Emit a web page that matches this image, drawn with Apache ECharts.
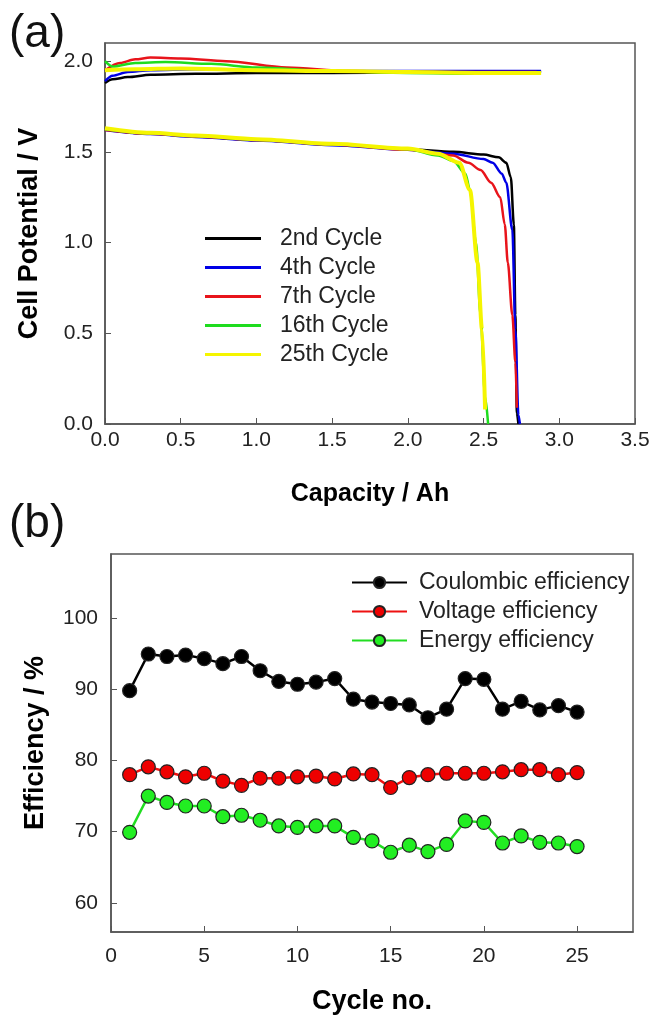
<!DOCTYPE html>
<html>
<head>
<meta charset="utf-8">
<script src="https://cdn.jsdelivr.net/npm/echarts@6/dist/echarts.min.js"></script>
<style>
  html, body { margin: 0; padding: 0; background: #fff; }
  #chart { width: 651px; height: 1015px; }
</style>
</head>
<body>
<div id="chart"></div>
<script>
// (a) charge / discharge curves, [capacity Ah, potential V]
const charge2 = [[0, 1.88], [0.05, 1.9], [0.15, 1.912], [0.3, 1.925], [0.6, 1.93], [1.0, 1.935], [1.5, 1.935], [2.0, 1.936], [2.5, 1.94], [2.88, 1.94]]
const charge4 = [[0, 1.89], [0.05, 1.92], [0.15, 1.94], [0.3, 1.95], [0.6, 1.955], [1.0, 1.95], [1.5, 1.946], [2.0, 1.945], [2.5, 1.945], [2.88, 1.945]]
const charge7 = [[0, 1.95], [0.1, 1.99], [0.2, 2.01], [0.3, 2.02], [0.5, 2.015], [0.8, 2.0], [1.2, 1.965], [1.6, 1.945], [2.0, 1.94], [2.5, 1.94], [2.85, 1.94]]
const charge16 = [[0, 2.0], [0.05, 1.97], [0.2, 1.99], [0.4, 1.995], [0.7, 1.985], [1.0, 1.965], [1.5, 1.945], [2.0, 1.935], [2.5, 1.93], [2.87, 1.93]]
const charge25 = [[0, 1.95], [0.2, 1.955], [0.5, 1.96], [1.0, 1.95], [1.5, 1.945], [2.0, 1.94], [2.5, 1.935], [2.88, 1.935]]

const discharge2 = [[0, 1.625], [0.3, 1.6], [0.6, 1.585], [1.0, 1.565], [1.5, 1.54], [2.0, 1.515], [2.3, 1.5], [2.5, 1.485], [2.6, 1.47], [2.65, 1.44], [2.68, 1.36], [2.7, 1.1], [2.71, 0.6], [2.72, 0.06], [2.73, 0]]
const discharge4 = [[0, 1.62], [0.3, 1.598], [0.6, 1.582], [1.0, 1.562], [1.5, 1.537], [2.0, 1.512], [2.3, 1.49], [2.5, 1.46], [2.56, 1.44], [2.62, 1.38], [2.65, 1.33], [2.69, 1.07], [2.71, 0.52], [2.73, 0.05], [2.74, 0]]
const discharge7 = [[0, 1.62], [0.3, 1.6], [0.6, 1.585], [1.0, 1.565], [1.5, 1.54], [2.0, 1.512], [2.3, 1.48], [2.4, 1.44], [2.48, 1.4], [2.55, 1.33], [2.61, 1.25], [2.64, 1.1], [2.66, 0.89], [2.69, 0.6], [2.71, 0.34], [2.72, 0.09]]
const discharge16 = [[0, 1.625], [0.3, 1.602], [0.6, 1.587], [1.0, 1.567], [1.5, 1.542], [2.0, 1.515], [2.2, 1.48], [2.3, 1.45], [2.38, 1.38], [2.41, 1.29], [2.45, 1.0], [2.48, 0.6], [2.51, 0.15], [2.53, 0]]
const discharge25 = [[0, 1.63], [0.3, 1.605], [0.6, 1.59], [1.0, 1.57], [1.5, 1.545], [2.0, 1.518], [2.2, 1.49], [2.34, 1.44], [2.41, 1.29], [2.46, 0.89], [2.49, 0.52], [2.51, 0.08]]

const cycleNames = ['2nd Cycle', '4th Cycle', '7th Cycle', '16th Cycle', '25th Cycle']
const cycleColors = ['#000000', '#0000e6', '#e8141b', '#1edc1e', '#f5f500']

// (b) efficiencies per cycle
const cycles = [1, 2, 3, 4, 5, 6, 7, 8, 9, 10, 11, 12, 13, 14, 15, 16, 17, 18, 19, 20, 21, 22, 23, 24, 25]
const coulombic = [89.8, 94.95, 94.6, 94.8, 94.3, 93.6, 94.6, 92.6, 91.1, 90.7, 91.0, 91.5, 88.6, 88.2, 88.0, 87.8, 86.0, 87.2, 91.5, 91.4, 87.2, 88.3, 87.1, 87.7, 86.8]
const voltage = [78.0, 79.1, 78.4, 77.7, 78.2, 77.1, 76.5, 77.5, 77.5, 77.7, 77.8, 77.4, 78.1, 78.0, 76.2, 77.6, 78.0, 78.2, 78.2, 78.2, 78.4, 78.7, 78.7, 78.0, 78.3]
const energy = [69.9, 75.0, 74.1, 73.6, 73.6, 72.1, 72.3, 71.6, 70.8, 70.6, 70.8, 70.8, 69.2, 68.7, 67.1, 68.1, 67.2, 68.2, 71.5, 71.3, 68.4, 69.4, 68.5, 68.4, 67.9]

const capTicks = [0, 0.5, 1.0, 1.5, 2.0, 2.5, 3.0, 3.5]
const potTicks = [0, 0.5, 1.0, 1.5, 2.0]
const cycleTicks = [0, 5, 10, 15, 20, 25]
const effTicks = [60, 70, 80, 90, 100]

const chart = echarts.init(document.getElementById('chart'))

const font = 'Liberation Sans, Arial, sans-serif'
const axisColor = '#555'
const labelStyle = { color: '#222', fontSize: 21, fontFamily: font }
const nameStyle = { color: '#000', fontSize: 27, fontWeight: 'bold', fontFamily: font }

const chargeSets = [charge2, charge4, charge7, charge16, charge25]
const dischargeSets = [discharge2, discharge4, discharge7, discharge16, discharge25]

let series = []
cycleNames.forEach((name, i) => {
  let width = i === 4 ? 4 : 2.5
  ;[chargeSets[i], dischargeSets[i]].forEach(d => {
    series.push({
      name: name,
      type: 'line',
      xAxisIndex: 0,
      yAxisIndex: 0,
      data: d,
      smooth: 0.3,
      smoothMonotone: 'x',
      showSymbol: false,
      symbol: 'none',
      lineStyle: { color: cycleColors[i], width: width },
      itemStyle: { color: cycleColors[i] },
      animation: false
    })
  })
})

const effSeries = [
  { name: 'Coulombic efficiency', data: coulombic, fill: '#000000', line: '#000000' },
  { name: 'Voltage efficiency', data: voltage, fill: '#ee0000', line: '#ee1111' },
  { name: 'Energy efficiency', data: energy, fill: '#22ee22', line: '#22dd22' }
]
effSeries.forEach(s => {
  series.push({
    name: s.name,
    type: 'line',
    xAxisIndex: 1,
    yAxisIndex: 1,
    data: cycles.map((c, k) => [c, s.data[k]]),
    symbol: 'circle',
    symbolSize: 14,
    lineStyle: { color: s.line, width: 2.5 },
    itemStyle: { color: s.fill, borderColor: '#222', borderWidth: 1.2 },
    animation: false
  })
})

const option = {
  backgroundColor: '#fff',
  graphic: [
    { type: 'text', left: 9, top: 11, style: { text: '(a)', fontSize: 46, fontFamily: font, fill: '#111' } },
    { type: 'text', left: 9, top: 501, style: { text: '(b)', fontSize: 46, fontFamily: font, fill: '#111' } }
  ],
  legend: [
    {
      data: cycleNames,
      orient: 'vertical',
      left: 200,
      top: 222,
      itemWidth: 56,
      itemHeight: 3,
      itemGap: 6,
      icon: 'rect',
      textStyle: { color: '#222', fontSize: 23, fontFamily: font, padding: [0, 0, 0, 14] }
    },
    {
      data: effSeries.map(s => s.name),
      orient: 'vertical',
      left: 346,
      top: 566,
      itemWidth: 55,
      itemHeight: 14,
      itemGap: 6,
      textStyle: { color: '#222', fontSize: 23, fontFamily: font, padding: [0, 0, 0, 7] }
    }
  ],
  grid: [
    { left: 105, right: 16, top: 43, height: 381, show: true, borderColor: axisColor, borderWidth: 1.5, outerBoundsMode: 'none', containLabel: false },
    { left: 111, right: 18, top: 554, height: 378, show: true, borderColor: axisColor, borderWidth: 1.5, outerBoundsMode: 'none', containLabel: false }
  ],
  xAxis: [
    {
      gridIndex: 0, type: 'value', min: 0, max: 3.5,
      name: 'Capacity / Ah', nameLocation: 'middle', nameGap: 58, nameTextStyle: { ...nameStyle, fontSize: 25 },
      axisLine: { lineStyle: { color: axisColor, width: 1.5 } },
      axisTick: { inside: true, length: 6, customValues: capTicks, lineStyle: { color: axisColor } },
      axisLabel: { customValues: capTicks, formatter: v => v.toFixed(1), margin: 6, ...labelStyle },
      splitLine: { show: false }
    },
    {
      gridIndex: 1, type: 'value', min: 0, max: 28,
      name: 'Cycle no.', nameLocation: 'middle', nameGap: 56, nameTextStyle: nameStyle,
      axisLine: { lineStyle: { color: axisColor, width: 1.5 } },
      axisTick: { inside: true, length: 6, customValues: cycleTicks, lineStyle: { color: axisColor } },
      axisLabel: { customValues: cycleTicks, margin: 14, ...labelStyle },
      splitLine: { show: false }
    }
  ],
  yAxis: [
    {
      gridIndex: 0, type: 'value', min: 0, max: 2.1,
      name: 'Cell Potential / V', nameLocation: 'middle', nameGap: 62, nameTextStyle: nameStyle,
      axisLine: { lineStyle: { color: axisColor, width: 1.5 } },
      axisTick: { inside: true, length: 6, customValues: potTicks, lineStyle: { color: axisColor } },
      axisLabel: { customValues: potTicks, formatter: v => v.toFixed(1), margin: 12, ...labelStyle },
      splitLine: { show: false }
    },
    {
      gridIndex: 1, type: 'value', min: 55.9, max: 109,
      name: 'Efficiency / %', nameLocation: 'middle', nameGap: 62, nameTextStyle: nameStyle,
      axisLine: { lineStyle: { color: axisColor, width: 1.5 } },
      axisTick: { inside: true, length: 6, customValues: effTicks, lineStyle: { color: axisColor } },
      axisLabel: { customValues: effTicks, margin: 13, ...labelStyle },
      splitLine: { show: false }
    }
  ],
  series: series
}

chart.setOption(option)
</script>
</body>
</html>
